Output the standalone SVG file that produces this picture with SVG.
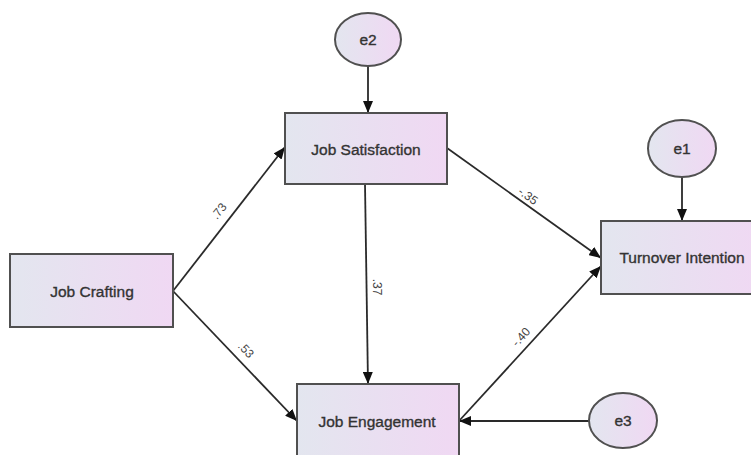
<svg xmlns="http://www.w3.org/2000/svg" width="751" height="455" viewBox="0 0 751 455">
<defs>
<linearGradient id="g" x1="0" y1="0" x2="1" y2="0">
<stop offset="0" stop-color="#e3e6ef"/>
<stop offset="1" stop-color="#f0d8f3"/>
</linearGradient>
<marker id="arr" viewBox="0 0 12 10" refX="12" refY="5" markerWidth="12" markerHeight="10" markerUnits="userSpaceOnUse" orient="auto">
<path d="M0,0 L12,5 L0,10 Z" fill="#111"/>
</marker>
<style>
.box{fill:url(#g);stroke:#505050;stroke-width:2}
.lbl{font-family:"Liberation Sans",Arial,sans-serif;font-size:15.5px;fill:#333;stroke:#333;stroke-width:0.35;text-anchor:middle;dominant-baseline:central}
.pl{font-family:"Liberation Sans",Arial,sans-serif;font-size:12px;fill:#444;text-anchor:middle;dominant-baseline:central}
.c line{stroke:#2a2a2a;stroke-width:1.8;marker-end:url(#arr)}
</style>
</defs>
<rect width="751" height="455" fill="#fff"/>
<g class="c" id="connectors">
<line x1="368" y1="66" x2="368" y2="113"/>
<line x1="682" y1="177" x2="682" y2="221"/>
<line x1="173" y1="291" x2="285" y2="147"/>
<line x1="173" y1="291" x2="297" y2="421"/>
<line x1="365" y1="184" x2="368" y2="384"/>
<line x1="447" y1="148" x2="601" y2="258"/>
<line x1="459" y1="421" x2="601" y2="266"/>
<line x1="589" y1="421" x2="459" y2="421"/>
<text class="pl" transform="translate(219,211) rotate(-52)">.73</text>
<text class="pl" transform="translate(246,350) rotate(46.4)">.53</text>
<text class="pl" transform="translate(377,287) rotate(90)">.37</text>
<text class="pl" transform="translate(528,196) rotate(35.7)">-.35</text>
<text class="pl" transform="translate(521,337) rotate(-47.7)">-.40</text>
</g>
<g id="jobCrafting">
<rect class="box" x="10" y="254" width="163" height="73"/>
<text class="lbl" x="92" y="291">Job Crafting</text>
</g>
<g id="jobSatisfaction">
<rect class="box" x="285" y="113" width="162" height="71"/>
<text class="lbl" x="366" y="149">Job Satisfaction</text>
</g>
<g id="jobEngagement">
<rect class="box" x="297" y="384" width="162" height="73"/>
<text class="lbl" x="377" y="421">Job Engagement</text>
</g>
<g id="turnoverIntention">
<rect class="box" x="601" y="221" width="163" height="73"/>
<text class="lbl" x="682" y="257">Turnover Intention</text>
</g>
<g id="e2">
<ellipse class="box" cx="368" cy="39.5" rx="33" ry="26.5"/>
<text class="lbl" x="368" y="39.5">e2</text>
</g>
<g id="e1">
<ellipse class="box" cx="682" cy="148.5" rx="34" ry="28.5"/>
<text class="lbl" x="682" y="148.5">e1</text>
</g>
<g id="e3">
<ellipse class="box" cx="623" cy="420.5" rx="34" ry="27.5"/>
<text class="lbl" x="623" y="420.5">e3</text>
</g>
</svg>
